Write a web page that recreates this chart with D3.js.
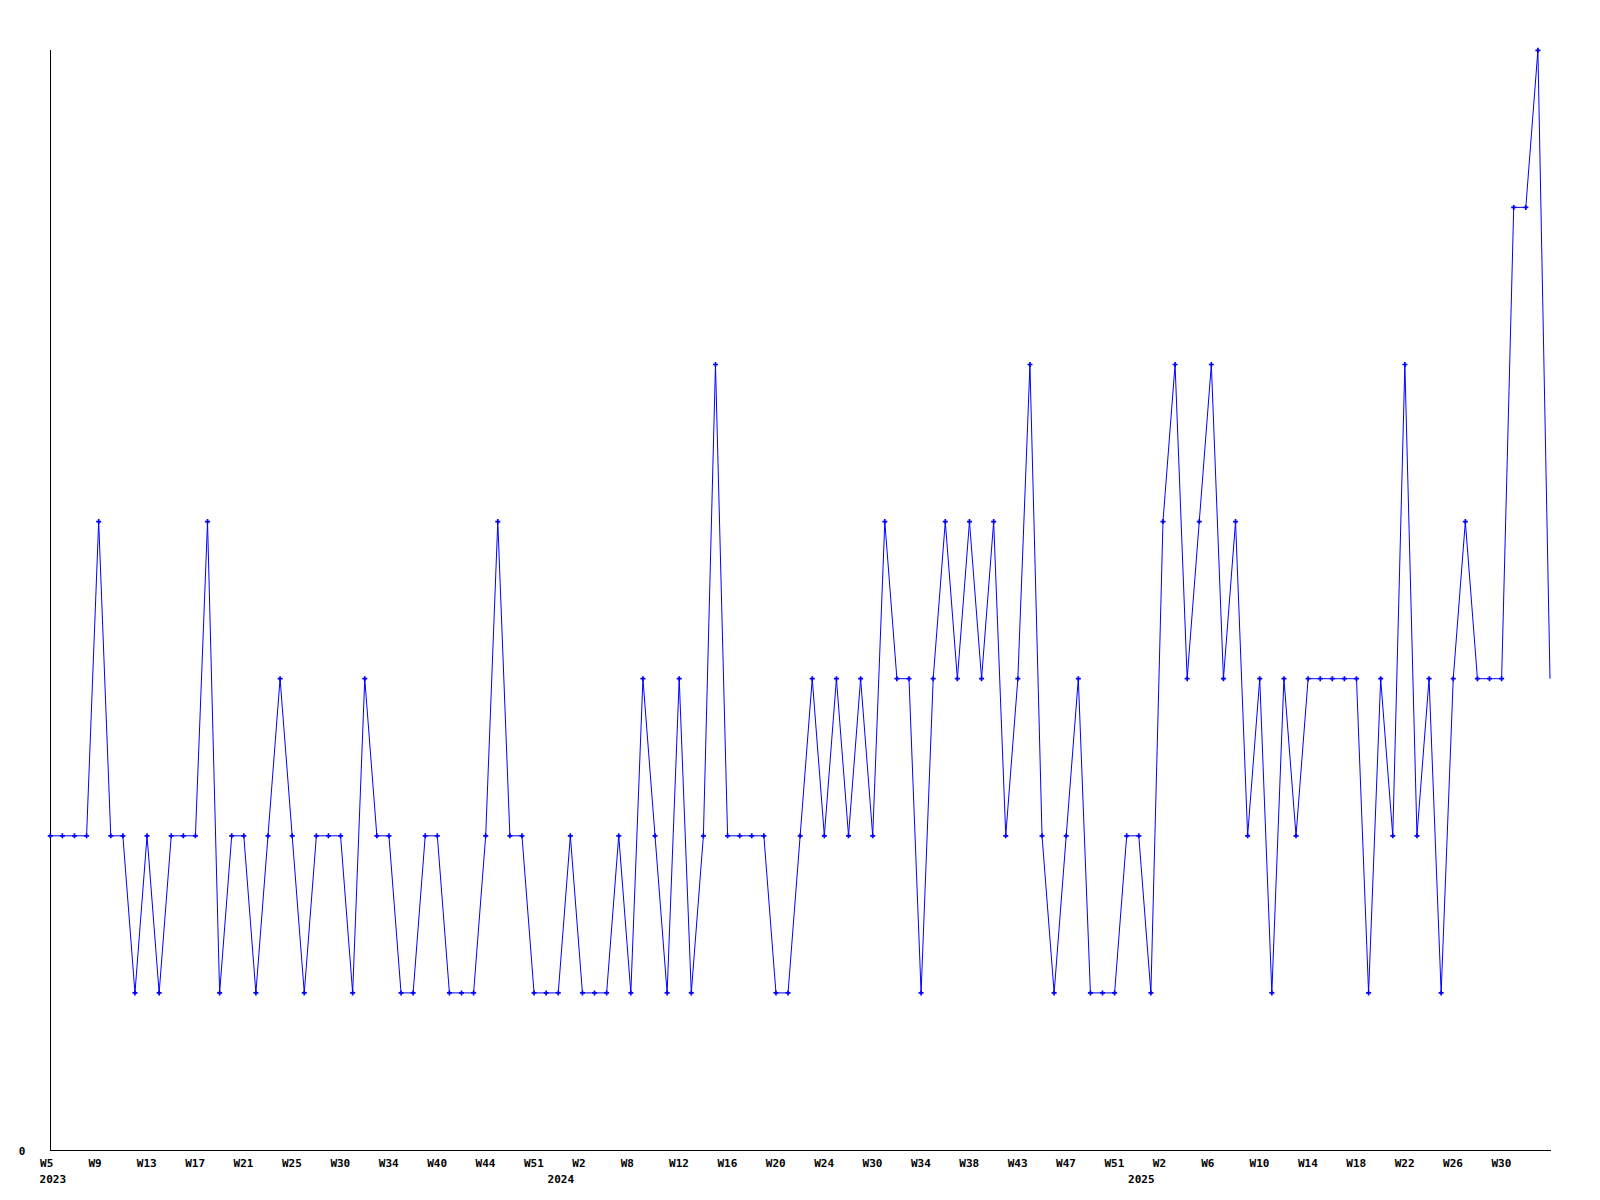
<!DOCTYPE html>
<html>
<head>
<meta charset="utf-8">
<script src="https://cdn.jsdelivr.net/npm/d3@7"></script>
<style>
  body { margin: 0; background: #ffffff; }
  svg { display: block; }
  text { font-family: "DejaVu Sans Mono", "Liberation Mono", monospace; font-weight: bold; font-size: 11px; fill: #000; }
</style>
</head>
<body>
<svg id="chart" width="1600" height="1200"></svg>
<script>
// ---- data (year-week categories, one point per category) ----
const categories = [
  "2023-W5","2023-W6","2023-W7","2023-W8","2023-W9","2023-W10","2023-W11","2023-W12",
  "2023-W13","2023-W14","2023-W15","2023-W16","2023-W17","2023-W18","2023-W19","2023-W20",
  "2023-W21","2023-W22","2023-W23","2023-W24","2023-W25","2023-W26","2023-W27","2023-W29",
  "2023-W30","2023-W31","2023-W32","2023-W33","2023-W34","2023-W36","2023-W37","2023-W38",
  "2023-W40","2023-W41","2023-W42","2023-W43","2023-W44","2023-W45","2023-W47","2023-W49",
  "2023-W51","2023-W52",
  "2024-W0","2024-W1","2024-W2","2024-W4","2024-W6","2024-W7","2024-W8","2024-W9",
  "2024-W10","2024-W11","2024-W12","2024-W13","2024-W14","2024-W15","2024-W16","2024-W17",
  "2024-W18","2024-W19","2024-W20","2024-W21","2024-W22","2024-W23","2024-W24","2024-W26",
  "2024-W28","2024-W29","2024-W30","2024-W31","2024-W32","2024-W33","2024-W34","2024-W35",
  "2024-W36","2024-W37","2024-W38","2024-W40","2024-W41","2024-W42","2024-W43","2024-W44",
  "2024-W45","2024-W46","2024-W47","2024-W48","2024-W49","2024-W50","2024-W51","2024-W52",
  "2025-W0","2025-W1","2025-W2","2025-W3","2025-W4","2025-W5","2025-W6","2025-W7",
  "2025-W8","2025-W9","2025-W10","2025-W11","2025-W12","2025-W13","2025-W14","2025-W15",
  "2025-W16","2025-W17","2025-W18","2025-W19","2025-W20","2025-W21","2025-W22","2025-W23",
  "2025-W24","2025-W25","2025-W26","2025-W27","2025-W28","2025-W29","2025-W30","2025-W31",
  "2025-W32","2025-W33","2025-W34"
];

const values = [
  2,2,2,2,4,2,2,1, 2,1,2,2,2,4,1,2, 2,1,2,3,2,1,2,2, 2,1,3,2,2,1,1,2,
  2,1,1,1,2,4,2,2, 1,1,1,2,1,1,1,2, 1,3,2,1,3,1,2,5, 2,2,2,2,1,1,2,3,
  2,3,2,3,2,4,3,3, 1,3,4,3,4,3,4,2, 3,5,2,1,2,3,1,1, 1,2,2,1,4,5,3,4,
  5,3,4,2,3,1,3,2, 3,3,3,3,3,1,3,2, 5,2,3,1,3,4,3,3, 3,6,6,7,3
];

const yDomain = [0, 7];
const yTickValues = [0];
const labelEvery = 4;

// ---- layout ----
const svg = d3.select("#chart");
const plotLeft = 50.3, plotRight = 1550, plotTop = 50.3, plotBottom = 1150;
const axisY = 1150.5;

const x = d3.scalePoint().domain(categories).range([plotLeft, plotRight]);
const y = d3.scaleLinear().domain(yDomain).range([plotBottom, plotTop]);

const weekOf = c => c.split("-")[1];
const yearOf = c => c.split("-")[0];

// ---- x axis ----
const tickCats = categories.filter((c, i) => i % labelEvery === 0 && i < categories.length - 1);
const xAxis = d3.axisBottom(x).tickValues(tickCats).tickSize(0).tickSizeOuter(0);
const gx = svg.append("g").attr("transform", `translate(0,${axisY})`).call(xAxis);
gx.attr("font-family", null).attr("font-size", null).attr("text-anchor", "start");
gx.select(".domain").attr("stroke", "#000").attr("stroke-width", 1).attr("shape-rendering", "crispEdges")
  .attr("d", `M${plotLeft - 0.3},0H${plotRight + 1}`);
gx.selectAll(".tick text")
  .attr("text-anchor", "start").attr("x", -10.7).attr("y", 16.7).attr("dy", null)
  .text(d => weekOf(d));

// year labels at first point of each year
const yearFirst = categories.filter((c, i) => i === 0 || yearOf(categories[i - 1]) !== yearOf(c));
gx.selectAll(".year").data(yearFirst).enter().append("text")
  .attr("class", "year")
  .attr("text-anchor", "start")
  .attr("x", d => x(d) - 10.7).attr("y", 32.2)
  .text(d => yearOf(d));

// ---- y axis ----
const yAxis = d3.axisLeft(y).tickValues(yTickValues).tickFormat(d3.format("d"))
  .tickSize(0).tickSizeOuter(0).tickPadding(25);
const gy = svg.append("g").attr("transform", `translate(${plotLeft},0)`).call(yAxis);
gy.attr("font-family", null).attr("font-size", null);
gy.select(".domain").attr("stroke", "#000").attr("stroke-width", 1).attr("shape-rendering", "crispEdges")
  .attr("d", `M0,${axisY + 0.5}V${plotTop - 0.3}`);
gy.selectAll(".tick text").attr("dy", "0.36em").attr("transform", "translate(0,1)");

// ---- line ----
const line = d3.line().x((d, i) => x(categories[i])).y(d => y(d));
svg.append("path").datum(values)
  .attr("fill", "none").attr("stroke", "#0000ff").attr("stroke-width", 1)
  .attr("d", line);

// ---- markers ----
const sym = d3.symbol().type(d3.symbolCross).size(14);
svg.append("g").selectAll("path")
  .data(values.slice(0, values.length - 1))
  .enter().append("path")
  .attr("d", sym)
  .attr("fill", "#0000ff")
  .attr("transform", (d, i) => `translate(${x(categories[i])},${y(d)})`);
</script>
</body>
</html>
